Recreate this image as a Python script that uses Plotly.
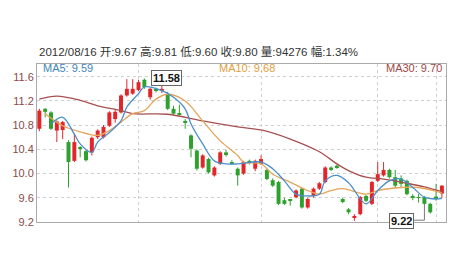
import plotly.graph_objects as go

# ---- data ----
idx = list(range(70))
opens = [10.74, 11.07, 11.01, 10.71, 10.72, 10.52, 10.21, 10.44, 10.37, 10.35,
         10.60, 10.60, 10.79, 10.90, 11.01, 11.29, 11.32, 11.38, 11.55, 11.26,
         11.39, 11.37, 11.31, 11.07, 11.00, 10.87, 10.63, 10.38, 10.10, 10.24,
         9.97, 10.16, 10.35, 10.19, 10.08, 10.00, 10.21, 10.08, 10.16, 10.06,
         9.89, 9.86, 9.56, 9.57, 9.61, 9.75, 9.44, 9.63, 9.75, 9.86,
         10.10, 10.13, 9.58, 9.41, 9.28, 9.33, 9.63, 9.50, 9.88, 9.97,
         10.06, 9.94, 9.92, 9.88, 9.61, 9.61, 9.61, 9.50, 9.62, 9.67]
highs = [11.07, 11.08, 11.03, 10.88, 10.87, 10.55, 10.66, 10.45, 10.39, 10.61,
         10.73, 10.80, 11.03, 11.05, 11.31, 11.56, 11.56, 11.55, 11.57, 11.42,
         11.42, 11.58, 11.35, 11.12, 11.14, 10.90, 10.65, 10.40, 10.32, 10.26,
         10.12, 10.37, 10.39, 10.22, 10.10, 10.21, 10.23, 10.23, 10.30, 10.08,
         9.92, 9.88, 9.60, 9.58, 9.74, 9.77, 9.60, 9.77, 9.86, 10.12,
         10.12, 10.15, 9.60, 9.43, 9.33, 9.63, 9.65, 9.88, 10.19, 10.19,
         10.08, 10.06, 9.97, 9.90, 9.66, 9.66, 9.63, 9.52, 9.83, 9.81]
lows = [10.70, 10.93, 10.72, 10.52, 10.57, 9.77, 10.19, 10.27, 10.20, 10.30,
        10.57, 10.58, 10.77, 10.84, 10.99, 11.27, 11.30, 11.36, 11.40, 11.22,
        11.34, 11.33, 11.05, 10.97, 10.96, 10.74, 10.27, 10.05, 10.08, 10.00,
        9.95, 10.14, 10.28, 10.15, 9.80, 9.98, 10.15, 10.04, 10.14, 9.89,
        9.78, 9.48, 9.48, 9.47, 9.59, 9.42, 9.42, 9.60, 9.73, 9.84,
        10.04, 10.08, 9.51, 9.33, 9.22, 9.31, 9.53, 9.48, 9.86, 9.95,
        9.92, 9.76, 9.78, 9.64, 9.56, 9.52, 9.48, 9.34, 9.55, 9.60]
closes = [11.04, 11.02, 10.74, 10.86, 10.85, 10.19, 10.52, 10.42, 10.22, 10.59,
          10.71, 10.77, 11.01, 11.02, 11.29, 11.40, 11.40, 11.51, 11.43, 11.40,
          11.37, 11.40, 11.07, 10.99, 10.98, 10.85, 10.41, 10.08, 10.30, 10.02,
          10.10, 10.35, 10.32, 10.17, 9.97, 10.19, 10.19, 10.21, 10.24, 9.91,
          9.80, 9.50, 9.50, 9.56, 9.72, 9.44, 9.58, 9.75, 9.84, 10.10,
          10.06, 10.10, 9.53, 9.36, 9.30, 9.61, 9.55, 9.86, 9.99, 10.06,
          9.94, 9.80, 9.83, 9.66, 9.61, 9.60, 9.50, 9.36, 9.58, 9.80]

ma5_x = [2, 4, 6, 7, 9, 10, 12, 14, 15, 17, 18, 21, 23, 25, 26, 28, 30, 32, 34,
         38, 40, 42, 44, 46, 48, 49, 51, 53, 56, 58, 60, 62, 64, 66, 68, 69]
ma5_y = [10.82, 10.93, 10.65, 10.49, 10.35, 10.52, 10.68, 10.87, 11.10, 11.32,
         11.43, 11.37, 11.26, 11.07, 10.82, 10.49, 10.21, 10.16, 10.16,
         10.19, 10.08, 9.88, 9.66, 9.63, 9.66, 9.88, 9.97, 9.85, 9.50, 9.72,
         9.88, 9.91, 9.77, 9.61, 9.58, 9.59]
ma10_x = [1, 4, 7, 10, 12, 14, 16, 18, 20, 22, 25, 28, 31, 34, 35, 38, 40, 43,
          46, 48, 50, 52, 56, 58, 62, 65, 69]
ma10_y = [10.99, 10.79, 10.69, 10.63, 10.71, 10.85, 10.99, 11.04, 11.23, 11.31,
          11.20, 10.87, 10.54, 10.30, 10.19, 10.16, 9.99, 9.86, 9.72, 9.66,
          9.72, 9.75, 9.66, 9.72, 9.77, 9.77, 9.68]
ma30_x = [0, 3, 7, 10, 14, 16, 22, 28, 34, 38, 43, 48, 51, 53, 56, 59, 63, 66, 69]
ma30_y = [11.23, 11.28, 11.21, 11.12, 11.04, 10.99, 10.98, 10.87, 10.77, 10.72,
          10.57, 10.36, 10.16, 10.05, 9.94, 9.91, 9.84, 9.78, 9.70]

y_ticks = [9.2, 9.6, 10.0, 10.4, 10.8, 11.2, 11.6]
month_grid = [17, 38, 58, 68]

title_text = "2012/08/16 开:9.67 高:9.81 低:9.60 收:9.80 量:94276 幅:1.34%"
ma_labels = [("MA5: 9.59", "#3f86b8"), ("MA10: 9.68", "#e0a040"), ("MA30: 9.70", "#a04848")]
max_mark = (21, 11.58)
min_mark = (62, 9.22)
min_link = (66, 9.50)

RED = "#e3262b"
GREEN = "#2ea12e"
FONT = "Liberation Sans, Noto Sans CJK SC, sans-serif"

fig = go.Figure()

# candles: wick lines + body bars, split by direction
for up, col in ((True, RED), (False, GREEN)):
    sel = [i for i in idx if (closes[i] > opens[i]) == up]
    wx, wy = [], []
    for i in sel:
        wx += [i, i, None]
        wy += [lows[i], highs[i], None]
    fig.add_trace(go.Scatter(x=wx, y=wy, mode="lines", line=dict(color=col, width=1),
                             showlegend=False, hoverinfo="skip"))
    base = [min(opens[i], closes[i]) for i in sel]
    height = [max(abs(closes[i] - opens[i]), 0.012) for i in sel]
    fig.add_trace(go.Bar(x=sel, y=height, base=base, width=0.68,
                         marker=dict(color=col, line=dict(width=0)),
                         showlegend=False, hoverinfo="skip"))

fig.add_trace(go.Scatter(x=ma30_x, y=ma30_y, mode="lines", line=dict(color="#a85050", width=1.3, shape="spline"), showlegend=False))
fig.add_trace(go.Scatter(x=ma10_x, y=ma10_y, mode="lines", line=dict(color="#e6a55a", width=1.3, shape="spline"), showlegend=False))
fig.add_trace(go.Scatter(x=ma5_x, y=ma5_y, mode="lines", line=dict(color="#4a8fcc", width=1.3, shape="spline"), showlegend=False))

# min connector
fig.add_trace(go.Scatter(x=[min_mark[0] + 1.9, min_link[0], min_link[0]],
                         y=[min_mark[1] + 0.01, min_mark[1] + 0.01, min_link[1]],
                         mode="lines", line=dict(color="#777", width=1), showlegend=False, cliponaxis=False))

fig.update_layout(
    width=474, height=270,
    margin=dict(l=35, r=28, t=64, b=48),
    paper_bgcolor="white", plot_bgcolor="white",
    font=dict(family=FONT, size=11, color="#333"),
    barmode="overlay",
    xaxis=dict(range=[-0.4, 69.7],
               tickvals=month_grid, showticklabels=False, ticks="",
               showgrid=True, gridcolor="#d0d0d0", griddash="dot", gridwidth=1,
               zeroline=False, showline=True, linecolor="#aaa", mirror=True),
    yaxis=dict(range=[9.2, 11.81], tickvals=y_ticks, ticktext=[f"{v:.1f}" for v in y_ticks],
               tickfont=dict(size=11, color="#8a4a4a"), ticks="",
               showgrid=True, gridcolor="#d0d0d0", griddash="dot", gridwidth=1,
               zeroline=False, showline=True, linecolor="#aaa", mirror=True),
    hovermode=False,
)

fig.add_annotation(text=title_text, xref="paper", yref="paper", x=0, y=1.076,
                   xanchor="left", yanchor="middle", showarrow=False,
                   font=dict(size=11.5, color="#333"))
pos = [(0.01, "left"), (0.44, "left"), (0.995, "right")]
for (txt, col), (px, anc) in zip(ma_labels, pos):
    fig.add_annotation(text=txt, xref="paper", yref="paper", x=px, y=0.975,
                       xanchor=anc, yanchor="middle", showarrow=False,
                       font=dict(size=11, color=col))

fig.add_annotation(text=f"<b>{max_mark[1]:.2f}</b>", x=max_mark[0], y=max_mark[1], xshift=5,
                   showarrow=False, bgcolor="white", bordercolor="#666", borderwidth=1,
                   borderpad=1, font=dict(size=11, color="#111"))
fig.add_annotation(text=f"<b>{min_mark[1]:.2f}</b>", x=min_mark[0], y=min_mark[1],
                   showarrow=False, bgcolor="white", bordercolor="#666", borderwidth=1,
                   borderpad=1, font=dict(size=11, color="#111"))

fig.write_html("out.html")
